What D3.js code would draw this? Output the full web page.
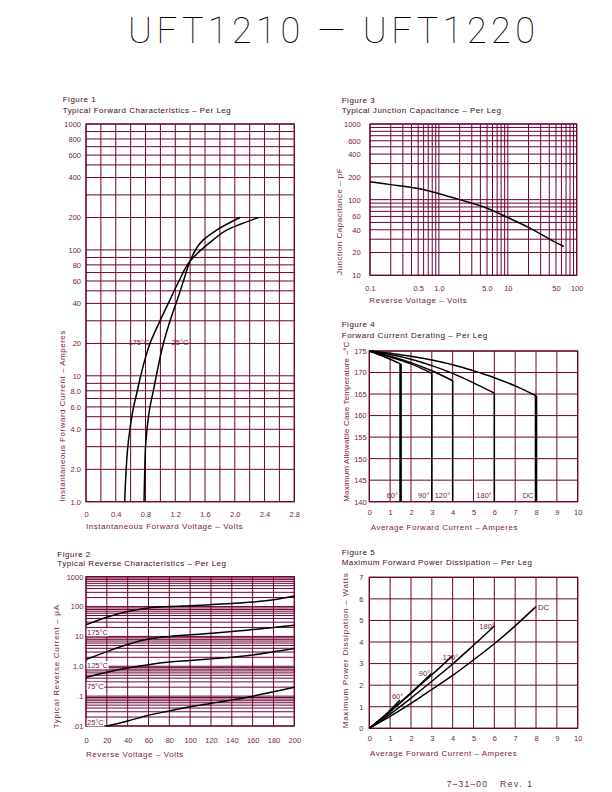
<!DOCTYPE html>
<html><head><meta charset="utf-8">
<script src="https://cdn.jsdelivr.net/npm/d3@7"></script>
<style>
body{margin:0;background:#fff}
svg{display:block}
</style>
</head><body>
<svg id="c" width="612" height="792"></svg>
<script>
// ---------------- DATA ----------------
// Figure 1: Typical Forward Characteristics (V, A)
const fig1XTicks = [0, 0.4, 0.8, 1.2, 1.6, 2.0, 2.4, 2.8];
const fig1XLabels = ["0", "0.4", "0.8", "1.2", "1.6", "2.0", "2.4", "2.8"];
const fig1YTicks = [1, 2, 4, 6, 8, 10, 20, 40, 60, 80, 100, 200, 400, 600, 800, 1000];
const fig1YLabels = ["1.0", "2.0", "4.0", "6.0", "8.0", "10", "20", "40", "60", "80", "100", "200", "400", "600", "800", "1000"];
const fwd175 = [[0.52, 1], [0.54, 2], [0.562, 3], [0.59, 4], [0.64, 6], [0.69, 8], [0.735, 10], [0.86, 20], [0.995, 30], [1.106, 40], [1.25, 60], [1.4, 85], [1.71, 124], [1.89, 153], [2.32, 200]];
const fwd25 = [[0.78, 1], [0.79, 2], [0.80, 3], [0.82, 4], [0.86, 6], [0.905, 8], [0.945, 10], [1.04, 20], [1.13, 30], [1.21, 40], [1.31, 60], [1.4, 85], [1.577, 124], [1.756, 153], [2.07, 200]];
const fig1CurveNames = ["175\u00B0C", "25\u00B0C"];
const fig1LabelAt = [[0.57, 19.5], [1.15, 19.5]];

// Figure 2: Typical Reverse Characteristics (V, uA)
const fig2XTicks = [0, 20, 40, 60, 80, 100, 120, 140, 160, 180, 200];
const fig2YTicks = [0.01, 0.1, 1, 10, 100, 1000];
const fig2YLabels = [".01", ".1", "1.0", "10", "100", "1000"];
const rev175 = [[0, 24.5], [20, 44], [40, 68], [60, 90], [80, 100], [100, 107], [120, 116], [140, 127], [160, 142], [180, 168], [200, 225]];
const rev125 = [[0, 1.68], [20, 3.1], [40, 5.4], [60, 8.2], [80, 10], [100, 11.3], [120, 12.7], [140, 14.5], [160, 17], [180, 20], [200, 23.7]];
const rev75 = [[0, 0.42], [20, 0.63], [40, 0.87], [60, 1.13], [80, 1.38], [100, 1.56], [120, 1.77], [140, 2.0], [160, 2.4], [180, 3.05], [200, 3.9]];
const rev25 = [[20, 0.01], [40, 0.0147], [60, 0.023], [80, 0.032], [100, 0.044], [120, 0.057], [140, 0.074], [160, 0.1], [180, 0.14], [200, 0.2]];
const fig2CurveNames = ["175\u00B0C", "125\u00B0C", "75\u00B0C", "25\u00B0C"];
const fig2LabelAt = [10.9, 0.86, 0.173, 0.0105];

// Figure 3: Typical Junction Capacitance (V, pF)
const fig3XTicks = [0.1, 0.5, 1, 5, 10, 50, 100];
const fig3XLabels = ["0.1", "0.5", "1.0", "5.0", "10", "50", "100"];
const fig3YTicks = [10, 20, 40, 60, 100, 200, 400, 600, 1000];
const capacitance = [[0.1, 173], [0.2, 158], [0.5, 140], [1, 120], [2, 100], [5, 77], [10, 58], [20, 43], [50, 27], [65, 24]];

// Figure 4: Forward Current Derating (A, degC)
const fig4XTicks = [0, 1, 2, 3, 4, 5, 6, 7, 8, 9, 10];
const fig4YTicks = [140, 145, 150, 155, 160, 165, 170, 175];
const derate60 = [[0, 175], [0.75, 173.6], [1.5, 172]];
const derate90 = [[0, 175], [1, 173.6], [2, 172], [3, 169.8]];
const derate120 = [[0, 175], [1, 173.8], [2, 172.3], [3, 170.4], [4, 168.1]];
const derate180 = [[0, 175], [1, 174.2], [2, 173.1], [3, 171.6], [4, 169.8], [5, 167.6], [6, 165.2]];
const derateDC = [[0, 175], [1, 174.5], [2, 173.8], [3, 172.9], [4, 171.8], [5, 170.4], [6, 168.8], [7, 166.9], [8, 164.6]];
const conductionNames = ["60\u00B0", "90\u00B0", "120\u00B0", "180\u00B0", "DC"];

// Figure 5: Maximum Forward Power Dissipation (A, W)
const fig5XTicks = [0, 1, 2, 3, 4, 5, 6, 7, 8, 9, 10];
const fig5YTicks = [0, 1, 2, 3, 4, 5, 6, 7];
const power60 = [[0, 0], [0.75, 0.6], [1.47, 1.31]];
const power90 = [[0, 0], [1, 0.8], [2, 1.65], [3, 2.55]];
const power120 = [[0, 0], [1, 0.77], [2, 1.62], [3, 2.48], [4, 3.37]];
const power180 = [[0, 0], [1, 0.66], [2, 1.4], [3, 2.18], [4, 2.98], [5, 3.85], [6, 4.74]];
const powerDC = [[0, 0], [1, 0.55], [2, 1.15], [3, 1.8], [4, 2.45], [5, 3.17], [6, 3.92], [7, 4.75], [8, 5.64]];

// ---------------- DRAWING ----------------
const GRID = "#6c0033", TXT = "#761a46", HEAD = "#3a0a1c";
const FONT = "'Liberation Sans', Arial, sans-serif";
const svg = d3.select("#c");

function txt(g, x, y, s, opt = {}) {
  const t = g.append("text").attr("x", x).attr("y", y).text(s)
    .attr("font-family", FONT).attr("font-size", opt.size || 8)
    .attr("fill", opt.fill || TXT);
  if (opt.len) t.attr("textLength", opt.len).attr("lengthAdjust", "spacing");
  if (opt.spacing) t.attr("letter-spacing", opt.spacing);
  if (opt.anchor) t.attr("text-anchor", opt.anchor);
  if (opt.rot) t.attr("transform", `rotate(-90,${x},${y})`);
  return t;
}

// minor log grid values (1..9 x 10^k) between lo and hi
function logMinors(lo, hi) {
  const out = [];
  for (let e = Math.round(Math.log10(lo)); e < Math.round(Math.log10(hi)); e++)
    for (let k = 1; k <= 9; k++) out.push(+(k * Math.pow(10, e)).toPrecision(6));
  out.push(hi);
  return out;
}

function panel(o) {
  const x = (o.xLog ? d3.scaleLog() : d3.scaleLinear()).domain(o.xDomain).range([o.left, o.right]);
  let y;
  if (o.yDecadeFrac) {
    // log axis drawn with the chart's own (slightly compressed) decade spacing
    const dom = logMinors(o.yDomain[0], o.yDomain[1]);
    const nDec = Math.round(Math.log10(o.yDomain[1] / o.yDomain[0]));
    const dPx = (o.bottom - o.top) / nDec;
    const rng = dom.map((v, i) => i === dom.length - 1 ? o.top
      : o.bottom - (Math.floor(i / 9) + o.yDecadeFrac[i % 9]) * dPx);
    y = d3.scaleLog().domain(dom).range(rng);
  } else {
    y = (o.yLog ? d3.scaleLog() : d3.scaleLinear()).domain(o.yDomain).range([o.bottom, o.top]);
  }
  const g = svg.append("g");
  const xg = o.xLog ? logMinors(o.xDomain[0], o.xDomain[1]) : o.xGrid;
  const yg = o.yLog ? logMinors(o.yDomain[0], o.yDomain[1]) : o.yGrid;
  g.append("g").selectAll("line").data(xg).join("line")
    .attr("x1", d => x(d)).attr("x2", d => x(d)).attr("y1", o.top).attr("y2", o.bottom)
    .attr("stroke", GRID).attr("stroke-width", 1);
  g.append("g").selectAll("line").data(yg).join("line")
    .attr("y1", d => y(d)).attr("y2", d => y(d)).attr("x1", o.left).attr("x2", o.right)
    .attr("stroke", GRID).attr("stroke-width", 1);
  g.append("rect").attr("x", o.left).attr("y", o.top)
    .attr("width", o.right - o.left).attr("height", o.bottom - o.top)
    .attr("fill", "none").attr("stroke", GRID).attr("stroke-width", 1.2);

  const ax = d3.axisBottom(x).tickValues(o.xTicks).tickSize(0).tickPadding(o.xPad)
    .tickFormat((d, i) => o.xLabels ? o.xLabels[i] : String(d));
  g.append("g").attr("transform", `translate(0,${o.bottom})`).call(ax)
    .call(s => s.select(".domain").remove())
    .call(s => s.selectAll("text").attr("font-family", FONT).attr("font-size", 7.5).attr("fill", TXT));
  const ay = d3.axisLeft(y).tickValues(o.yTicks).tickSize(0).tickPadding(o.yPad)
    .tickFormat((d, i) => o.yLabels ? o.yLabels[i] : String(d));
  g.append("g").attr("transform", `translate(${o.left},0)`).call(ay)
    .call(s => s.select(".domain").remove())
    .call(s => s.selectAll("text").attr("font-family", FONT).attr("font-size", 7.5).attr("fill", TXT));
  g.selectAll(".tick line").remove();
  g.selectAll(".tick").attr("fill", null);
  g.selectAll("g[font-family]").attr("font-family", null).attr("font-size", null);

  txt(g, o.headX, o.head1Y, o.head1, { fill: HEAD, len: o.head1Len });
  txt(g, o.headX, o.head2Y, o.head2, { fill: HEAD, len: o.head2Len });
  txt(g, o.xTitleX, o.xTitleY, o.xTitle, { len: o.xTitleLen });
  txt(g, o.yTitleX, o.yTitleY, o.yTitle, { len: o.yTitleLen, rot: true });
  return { x, y, g };
}

function curve(p, data, w = 1.5, interp = d3.curveCatmullRom) {
  const line = d3.line().x(d => p.x(d[0])).y(d => p.y(d[1])).curve(interp);
  p.g.append("path").datum(data).attr("d", line).attr("fill", "none")
    .attr("stroke", "#000").attr("stroke-width", w).attr("stroke-linejoin", "round");
}

// Page title
svg.append("text").attr("x", 128).attr("y", 43).text("UFT1210 \u2014 UFT1220")
  .attr("font-family", "Roboto, 'DejaVu Sans', sans-serif").attr("font-weight", 100)
  .attr("font-size", 36).attr("fill", "#000")
  .attr("textLength", 407).attr("lengthAdjust", "spacing");

// ----- Figure 1 -----
const p1 = panel({
  left: 86, right: 294.3, top: 124, bottom: 501.7,
  xDomain: [0, 2.8], yDomain: [1, 1000], yLog: true,
  yDecadeFrac: [0, 0.257, 0.437, 0.575, 0.675, 0.753, 0.82, 0.881, 0.94],
  xGrid: d3.range(0, 2.81, 0.2),
  xTicks: fig1XTicks, xLabels: fig1XLabels, yTicks: fig1YTicks, yLabels: fig1YLabels,
  xPad: 9.7, yPad: 5,
  headX: 62.7, head1Y: 101.5, head1: "Figure 1", head1Len: 33,
  head2Y: 112.7, head2: "Typical Forward Characteristics \u2013 Per Leg", head2Len: 168,
  xTitleX: 86, xTitleY: 529.3, xTitle: "Instantaneous Forward Voltage \u2013 Volts", xTitleLen: 156.7,
  yTitleX: 65, yTitleY: 501.7, yTitle: "Instantaneous Forward Current \u2013 Amperes", yTitleLen: 171
});
curve(p1, fwd175, 1.5, d3.curveMonotoneY);
curve(p1, fwd25, 1.5, d3.curveMonotoneY);
fig1CurveNames.forEach((n, i) => txt(p1.g, p1.x(fig1LabelAt[i][0]), p1.y(fig1LabelAt[i][1]), n, { size: 7.5 }));

// ----- Figure 2 -----
const p2 = panel({
  left: 86, right: 294.3, top: 576.7, bottom: 726,
  xDomain: [0, 200], yDomain: [0.01, 1000], yLog: true,
  xGrid: fig2XTicks,
  xTicks: fig2XTicks, yTicks: fig2YTicks, yLabels: fig2YLabels,
  xPad: 11.4, yPad: 2.7,
  headX: 57.3, head1Y: 556.7, head1: "Figure 2", head1Len: 33,
  head2Y: 566, head2: "Typical Reverse Characteristics \u2013 Per Leg", head2Len: 168.7,
  xTitleX: 86, xTitleY: 756.7, xTitle: "Reverse Voltage \u2013 Volts", xTitleLen: 97.3,
  yTitleX: 59.3, yTitleY: 728.3, yTitle: "Typical Reverse Current \u2013 \u00B5A", yTitleLen: 123.3
});
[rev175, rev125, rev75, rev25].forEach(d => curve(p2, d));
fig2CurveNames.forEach((n, i) => {
  const yy = p2.y(fig2LabelAt[i]);
  const w = n.length * 4.4;
  p2.g.append("rect").attr("x", p2.x(0) + 0.6).attr("y", yy - 7).attr("width", w).attr("height", 8).attr("fill", "#fff");
  txt(p2.g, p2.x(0) + 1, yy, n, { size: 7.5 });
});

// ----- Figure 3 -----
const p3 = panel({
  left: 370, right: 576.7, top: 124, bottom: 275.3,
  xDomain: [0.1, 100], xLog: true, yDomain: [10, 1000], yLog: true,
  xTicks: fig3XTicks, xLabels: fig3XLabels, yTicks: fig3YTicks,
  xPad: 10.4, yPad: 9.3,
  headX: 341.7, head1Y: 103.3, head1: "Figure 3", head1Len: 33,
  head2Y: 112.7, head2: "Typical Junction Capacitance \u2013 Per Leg", head2Len: 159.3,
  xTitleX: 369.3, xTitleY: 303.3, xTitle: "Reverse Voltage \u2013 Volts", xTitleLen: 97.4,
  yTitleX: 341.7, yTitleY: 275, yTitle: "Junction Capacitance \u2013 pF", yTitleLen: 106.7
});
curve(p3, capacitance);

// ----- Figure 4 -----
const p4 = panel({
  left: 369.3, right: 577.7, top: 351, bottom: 501.7,
  xDomain: [0, 10], yDomain: [140, 175],
  xGrid: fig4XTicks, yGrid: fig4YTicks,
  xTicks: fig4XTicks, yTicks: fig4YTicks,
  xPad: 8, yPad: 2.6,
  headX: 341.7, head1Y: 327.3, head1: "Figure 4", head1Len: 33,
  head2Y: 337.7, head2: "Forward Current Derating \u2013 Per Leg", head2Len: 145.6,
  xTitleX: 370.7, xTitleY: 530, xTitle: "Average Forward Current \u2013 Amperes", xTitleLen: 146.7,
  yTitleX: 349, yTitleY: 501.7, yTitle: "Maximum Allowable Case Temperature \u2013\u00B0C", yTitleLen: 160
});
const derateSets = [derate60, derate90, derate120, derate180, derateDC];
derateSets.forEach((d, i) => {
  curve(p4, d);
  const end = d[d.length - 1];
  const heavy = (i === 0 || i === 4);
  p4.g.append("line").attr("x1", p4.x(end[0])).attr("x2", p4.x(end[0]))
    .attr("y1", p4.y(end[1])).attr("y2", p4.y(140))
    .attr("stroke", "#000").attr("stroke-width", heavy ? 2.6 : 1.5);
  txt(p4.g, p4.x(end[0]) - 2.5, p4.y(140) - 4, conductionNames[i], { size: 7.5, anchor: "end" });
});

// ----- Figure 5 -----
const p5 = panel({
  left: 369.3, right: 577.7, top: 577.3, bottom: 728.3,
  xDomain: [0, 10], yDomain: [0, 7],
  xGrid: fig5XTicks, yGrid: fig5YTicks,
  xTicks: fig5XTicks, yTicks: fig5YTicks,
  xPad: 7.4, yPad: 6,
  headX: 341.7, head1Y: 555, head1: "Figure 5", head1Len: 33,
  head2Y: 565, head2: "Maximum Forward Power Dissipation \u2013 Per Leg", head2Len: 190.3,
  xTitleX: 370, xTitleY: 756, xTitle: "Average Forward Current \u2013 Amperes", xTitleLen: 146.7,
  yTitleX: 348, yTitleY: 728.3, yTitle: "Maximum Power Dissipation \u2013 Watts", yTitleLen: 155
});
const powerSets = [power60, power90, power120, power180, powerDC];
const powerLabelOffset = [[-8, -1], [-13, 3], [-10, 4], [-15, 3], [2, 3]];
powerSets.forEach((d, i) => {
  curve(p5, d);
  const end = d[d.length - 1];
  txt(p5.g, p5.x(end[0]) + powerLabelOffset[i][0], p5.y(end[1]) + powerLabelOffset[i][1], conductionNames[i], { size: 7.5 });
});

// Footer
txt(svg, 446.7, 786.7, "7\u201331\u201300", { size: 8.5, spacing: 1.2 });
txt(svg, 500, 786.7, "Rev.  1", { size: 8.5, spacing: 1.6 });
</script>
</body></html>
